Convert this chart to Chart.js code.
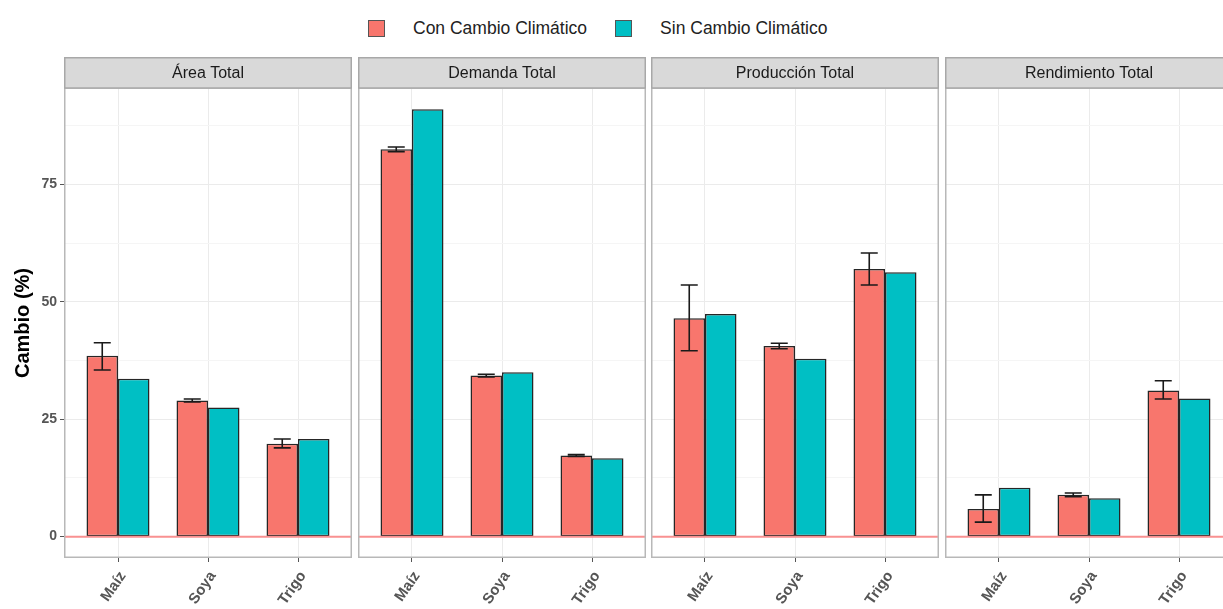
<!DOCTYPE html>
<html>
<head>
<meta charset="utf-8">
<script src="https://cdn.jsdelivr.net/npm/chart.js@4.4.0/dist/chart.umd.min.js"></script>
<style>
  body { margin: 0; background: #fff; width: 1223px; height: 609px; overflow: hidden; position: relative;
         font-family: "Liberation Sans", Arial, sans-serif; }
  .panel { position: absolute; top: 57px; }
  #legend { position: absolute; top: 20px; left: 368px; display: flex; align-items: center; height: 17px; }
  .key { width: 15px; height: 15px; border: 1px solid #555; }
  .lbl { font-size: 17.5px; color: #222; margin-left: 28px; margin-right: 28px; white-space: nowrap; }
</style>
</head>
<body>
<div id="legend">
  <div class="key" style="background:#F8766D"></div><span class="lbl">Con Cambio Climático</span>
  <div class="key" style="background:#00BFC4"></div><span class="lbl">Sin Cambio Climático</span>
</div>
<canvas id="p0" class="panel" width="352" height="552" style="left:0px"></canvas>
<canvas id="p1" class="panel" width="288" height="552" style="left:358px"></canvas>
<canvas id="p2" class="panel" width="288" height="552" style="left:651px"></canvas>
<canvas id="p3" class="panel" width="288" height="552" style="left:945px"></canvas>
<script>
const cultivos = ['Maíz', 'Soya', 'Trigo'];
const paneles = ['Área Total', 'Demanda Total', 'Producción Total', 'Rendimiento Total'];
const yTicks = [0, 12.5, 25, 37.5, 50, 62.5, 75, 87.5];

// Con cambio climático (media) y su intervalo
const areaCon = [38.5, 29.0, 19.8];
const demandaCon = [82.5, 34.3, 17.3];
const produccionCon = [46.5, 40.6, 57.0];
const rendimientoCon = [5.9, 8.9, 31.1];

const areaLo = [35.5, 28.7, 18.9];
const areaHi = [41.3, 29.3, 20.8];
const demandaLo = [82.0, 34.0, 17.1];
const demandaHi = [83.0, 34.6, 17.5];
const produccionLo = [39.6, 40.0, 53.6];
const produccionHi = [53.6, 41.2, 60.4];
const rendimientoLo = [3.1, 8.5, 29.3];
const rendimientoHi = [8.9, 9.3, 33.2];

// Sin cambio climático
const areaSin = [33.6, 27.5, 20.8];
const demandaSin = [91.0, 35.0, 16.7];
const produccionSin = [47.4, 37.9, 56.3];
const rendimientoSin = [10.4, 8.2, 29.4];

const conSeries = [areaCon, demandaCon, produccionCon, rendimientoCon];
const sinSeries = [areaSin, demandaSin, produccionSin, rendimientoSin];
const loSeries = [areaLo, demandaLo, produccionLo, rendimientoLo];
const hiSeries = [areaHi, demandaHi, produccionHi, rendimientoHi];

const FONT = '"Liberation Sans", Arial, sans-serif';
const STRIP = 31;

const facetPlugin = {
    id: 'facet',
    afterDatasetsDraw(chart, args, opts) {
        const { ctx, chartArea } = chart;
        const y = chart.scales.y;
        // linea de referencia en cero
        const y0 = y.getPixelForValue(0);
        ctx.save();
        ctx.strokeStyle = '#f99191';
        ctx.lineWidth = 2;
        ctx.beginPath();
        ctx.moveTo(chartArea.left, y0);
        ctx.lineTo(chartArea.right, y0);
        ctx.stroke();

        // barras de error sobre la serie "Con"
        const meta = chart.getDatasetMeta(0);
        ctx.strokeStyle = '#1a1a1a';
        ctx.lineWidth = 1.6;
        meta.data.forEach((bar, i) => {
            const top = y.getPixelForValue(opts.hi[i]);
            const bot = y.getPixelForValue(opts.lo[i]);
            ctx.beginPath();
            ctx.moveTo(bar.x, top); ctx.lineTo(bar.x, bot);
            ctx.moveTo(bar.x - 8.5, top); ctx.lineTo(bar.x + 8.5, top);
            ctx.moveTo(bar.x - 8.5, bot); ctx.lineTo(bar.x + 8.5, bot);
            ctx.stroke();
        });
        ctx.restore();
    },
    afterDraw(chart, args, opts) {
        const { ctx, chartArea } = chart;
        const w = chartArea.right - chartArea.left;
        ctx.save();
        // borde del panel
        ctx.strokeStyle = '#b8b8b8';
        ctx.lineWidth = 1.5;
        ctx.strokeRect(chartArea.left + 0.75, chartArea.top, w - 1.5, chartArea.bottom - chartArea.top - 0.75);
        // franja del titulo
        ctx.fillStyle = '#d9d9d9';
        ctx.fillRect(chartArea.left, chartArea.top - STRIP, w, STRIP);
        ctx.strokeStyle = '#a8a8a8';
        ctx.lineWidth = 1.5;
        ctx.strokeRect(chartArea.left + 0.75, chartArea.top - STRIP + 0.75, w - 1.5, STRIP - 0.75);
        ctx.fillStyle = '#1a1a1a';
        ctx.font = '16px ' + FONT;
        ctx.textAlign = 'center';
        ctx.textBaseline = 'middle';
        ctx.fillText(opts.title, chartArea.left + w / 2, chartArea.top - STRIP / 2 + 1);
        ctx.restore();
    }
};

function toPoints(values) {
    return cultivos.map((c, i) => ({ x: i, y: values[i] }));
}

function makePanel(idx) {
    const first = idx === 0;
    const ctx = document.getElementById('p' + idx).getContext('2d');
    const barStyle = {
        borderColor: '#262626',
        borderWidth: 1.5,
        borderSkipped: false,
        categoryPercentage: 0.7,
        barPercentage: 1.0
    };

    return new Chart(ctx, {
        type: 'bar',
        data: {
            datasets: [
                Object.assign({ label: 'Con Cambio Climático', data: toPoints(conSeries[idx]), backgroundColor: '#F8766D' }, barStyle),
                Object.assign({ label: 'Sin Cambio Climático', data: toPoints(sinSeries[idx]), backgroundColor: '#00BFC4' }, barStyle)
            ]
        },
        options: {
            responsive: false,
            animation: false,
            events: [],
            layout: { padding: { top: STRIP } },
            plugins: {
                legend: { display: false },
                tooltip: { enabled: false },
                facet: { title: paneles[idx], lo: loSeries[idx], hi: hiSeries[idx] }
            },
            scales: {
                x: {
                    type: 'linear',
                    min: -0.6,
                    max: 2.6,
                    offset: false,
                    afterBuildTicks: s => { s.ticks = cultivos.map((c, i) => ({ value: i })); },
                    afterFit: s => { s.height = 51; s.paddingLeft = 0; s.paddingRight = 0; },
                    ticks: {
                        autoSkip: false,
                        minRotation: 55,
                        maxRotation: 55,
                        padding: 6,
                        labelOffset: 5,
                        color: '#555',
                        font: { family: FONT, size: 15, weight: 'bold' },
                        callback: v => cultivos[Math.round(v)]
                    },
                    grid: { offset: false, color: '#ebebeb', tickColor: '#555', tickLength: 4 },
                    border: { display: false }
                },
                y: {
                    min: -4.55,
                    max: 95.55,
                    afterBuildTicks: s => { s.ticks = yTicks.map(v => ({ value: v })); },
                    afterFit: s => { s.width = first ? 64 : 0; s.paddingTop = 0; s.paddingBottom = 0; },
                    ticks: {
                        display: first,
                        padding: 3,
                        color: '#555',
                        font: { family: FONT, size: 14, weight: 'bold' },
                        callback: v => (v % 25 === 0 ? String(v) : '')
                    },
                    grid: {
                        color: c => (c.tick && c.tick.value % 25 === 0 ? '#ebebeb' : '#f5f5f5'),
                        tickColor: c => (c.tick && c.tick.value % 25 === 0 ? '#555' : 'rgba(0,0,0,0)'),
                        drawTicks: first,
                        tickLength: 4
                    },
                    border: { display: false },
                    title: {
                        display: first,
                        text: 'Cambio (%)',
                        color: '#000',
                        font: { family: FONT, size: 20, weight: 'bold' },
                        padding: { top: 11, bottom: 0 }
                    }
                }
            }
        },
        plugins: [facetPlugin]
    });
}

paneles.forEach((p, i) => makePanel(i));
</script>
</body>
</html>
